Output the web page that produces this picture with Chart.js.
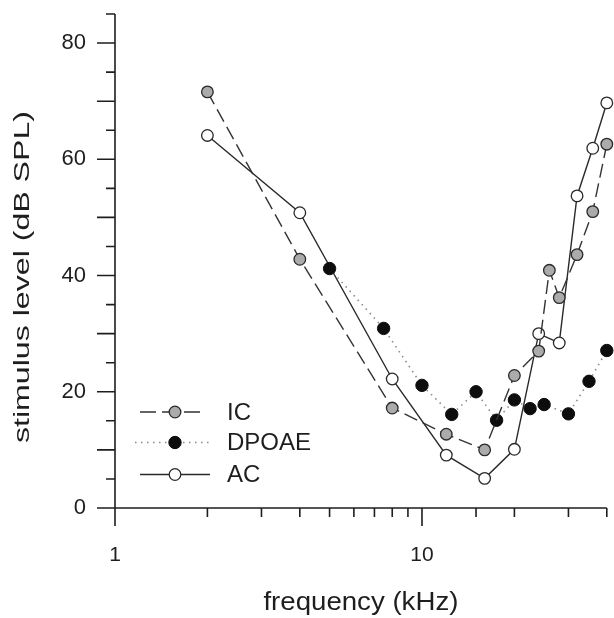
<!DOCTYPE html>
<html>
<head>
<meta charset="utf-8">
<script src="https://cdn.jsdelivr.net/npm/chart.js@4/dist/chart.umd.min.js"></script>
<style>
  html, body { margin: 0; padding: 0; background: #fff; }
  #wrap { width: 614px; height: 618px; }
</style>
</head>
<body>
<div id="wrap"><canvas id="chart" width="614" height="618"></canvas></div>
<script>
// values (frequency in kHz, level in dB SPL)
const icFreq  = [2, 4, 8, 12, 16, 20, 24, 26, 28, 32, 36, 40];
const icLevel = [71.6, 42.8, 17.2, 12.7, 10.0, 22.8, 27.0, 40.9, 36.2, 43.6, 51.0, 62.6];

const dpFreq  = [5, 7.5, 10, 12.5, 15, 17.5, 20, 22.5, 25, 30, 35, 40];
const dpLevel = [41.2, 30.9, 21.1, 16.1, 20.0, 15.1, 18.6, 17.1, 17.8, 16.2, 21.8, 27.1];

const acFreq  = [2, 4, 8, 12, 16, 20, 24, 28, 32, 36, 40];
const acLevel = [64.1, 50.8, 22.2, 9.1, 5.1, 10.1, 30.0, 28.4, 53.7, 61.9, 69.7];

const seriesNames = ['IC', 'DPOAE', 'AC'];
const xLabels = [1, 10];
const yLabels = [0, 20, 40, 60, 80];
const xTitle = 'frequency (kHz)';
const yTitle = 'stimulus level (dB SPL)';

const FONT = '"Liberation Sans", Arial, Helvetica, sans-serif';
const INK = '#1e1e1e';

function pts(xs, ys) {
    return xs.map((x, i) => ({ x: x, y: ys[i] }));
}

// draw text stretched to a given width
function wideText(ctx, text, x, y, size, width, angle) {
    ctx.save();
    ctx.font = size + 'px ' + FONT;
    const w = ctx.measureText(text).width;
    ctx.translate(x, y);
    ctx.rotate(angle || 0);
    ctx.scale(width / w, 1);
    ctx.textAlign = 'center';
    ctx.textBaseline = 'middle';
    ctx.fillText(text, 0, 0);
    ctx.restore();
}

// axis lines, two lengths of tick marks, axis titles and the in-plot legend
const axesPlugin = {
    id: 'axesPlugin',
    afterDraw(chart) {
        const ctx = chart.ctx;
        const xs = chart.scales.x, ys = chart.scales.y;
        const a = chart.chartArea;
        const x0 = xs.getPixelForValue(xs.min), y0 = ys.getPixelForValue(0);

        ctx.save();
        ctx.strokeStyle = INK;
        ctx.lineWidth = 1.6;
        ctx.beginPath();
        ctx.moveTo(x0 - 18, y0); ctx.lineTo(a.right, y0);
        ctx.moveTo(x0, a.top); ctx.lineTo(x0, y0 + 17);
        ys.ticks.forEach(t => {
            const py = ys.getPixelForValue(t.value);
            const len = t.value % 10 === 0 ? 18 : 9;
            ctx.moveTo(x0 - len, py); ctx.lineTo(x0, py);
        });
        xs.ticks.forEach(t => {
            const px = xs.getPixelForValue(t.value);
            const lg = Math.log10(t.value);
            const len = Math.abs(lg - Math.round(lg)) < 1e-9 ? 18 : 9;
            ctx.moveTo(px, y0); ctx.lineTo(px, y0 + len);
        });
        ctx.stroke();

        ctx.fillStyle = INK;
        wideText(ctx, xTitle, (a.left + a.right) / 2, 603, 25, 195, 0);
        wideText(ctx, yTitle, 23, a.bottom - 231, 22, 332, -Math.PI / 2);

        // legend: line sample + marker + name
        const rowY = [a.bottom - 96, a.bottom - 65.5, a.bottom - 33.5];
        chart.data.datasets.forEach((ds, i) => {
            const y = rowY[i];
            const lx = a.left + (i === 1 ? 20 : 25), rx = a.left + (i === 0 ? 88 : 95), mx = a.left + 60;
            ctx.save();
            ctx.strokeStyle = ds.borderColor;
            ctx.lineWidth = ds.borderWidth;
            ctx.setLineDash(i === 0 ? [16, 6] : (ds.borderDash || []));
            ctx.beginPath();
            ctx.moveTo(lx, y); ctx.lineTo(rx, y);
            ctx.stroke();
            ctx.setLineDash([]);
            ctx.beginPath();
            ctx.arc(mx, y, ds.pointRadius, 0, Math.PI * 2);
            ctx.fillStyle = ds.pointBackgroundColor;
            ctx.fill();
            ctx.lineWidth = ds.pointBorderWidth;
            ctx.strokeStyle = ds.pointBorderColor;
            ctx.stroke();
            ctx.restore();
            ctx.font = '24px ' + FONT;
            ctx.fillStyle = INK;
            ctx.textAlign = 'left';
            ctx.textBaseline = 'middle';
            ctx.fillText(ds.label, a.left + 112, y + 1);
        });
        ctx.restore();
    }
};

new Chart(document.getElementById('chart'), {
    type: 'line',
    data: {
        datasets: [{
            label: seriesNames[0],
            data: pts(icFreq, icLevel),
            borderColor: '#333333',
            borderWidth: 1.4,
            borderDash: [14, 6],
            pointRadius: 5.8,
            pointBackgroundColor: '#ababab',
            pointBorderColor: '#2a2a2a',
            pointBorderWidth: 1.3,
            clip: false
        }, {
            label: seriesNames[1],
            data: pts(dpFreq, dpLevel),
            borderColor: '#8a8a8a',
            borderWidth: 1.6,
            borderDash: [1.5, 4.5],
            pointRadius: 6.2,
            pointBackgroundColor: '#0d0d0d',
            pointBorderColor: '#0d0d0d',
            pointBorderWidth: 1,
            clip: false
        }, {
            label: seriesNames[2],
            data: pts(acFreq, acLevel),
            borderColor: '#2a2a2a',
            borderWidth: 1.4,
            pointRadius: 5.8,
            pointBackgroundColor: '#ffffff',
            pointBorderColor: '#2a2a2a',
            pointBorderWidth: 1.3,
            clip: false
        }]
    },
    options: {
        responsive: false,
        animation: false,
        events: [],
        layout: { padding: { top: 14, right: 4, bottom: 0, left: 0 } },
        plugins: { legend: { display: false }, tooltip: { enabled: false } },
        elements: { line: { tension: 0 } },
        scales: {
            x: {
                type: 'logarithmic',
                min: 1,
                max: 40,
                border: { display: false },
                grid: { display: false, drawTicks: false },
                afterFit(scale) {
                    scale.height = 110;
                    scale.paddingLeft = 0;
                    scale.paddingRight = 0;
                },
                ticks: {
                    autoSkip: false,
                    maxRotation: 0,
                    padding: 35,
                    color: INK,
                    font: { family: FONT, size: 21 },
                    callback: v => xLabels.includes(v) ? String(v) : ''
                }
            },
            y: {
                min: 0,
                max: 85,
                border: { display: false },
                grid: { display: false, drawTicks: false },
                afterFit(scale) {
                    scale.width = 115;
                    scale.paddingTop = 0;
                    scale.paddingBottom = 0;
                },
                ticks: {
                    stepSize: 5,
                    autoSkip: false,
                    padding: 29,
                    color: INK,
                    font: { family: FONT, size: 22 },
                    callback: v => yLabels.includes(v) ? String(v) : ''
                }
            }
        }
    },
    plugins: [axesPlugin]
});
</script>
</body>
</html>
